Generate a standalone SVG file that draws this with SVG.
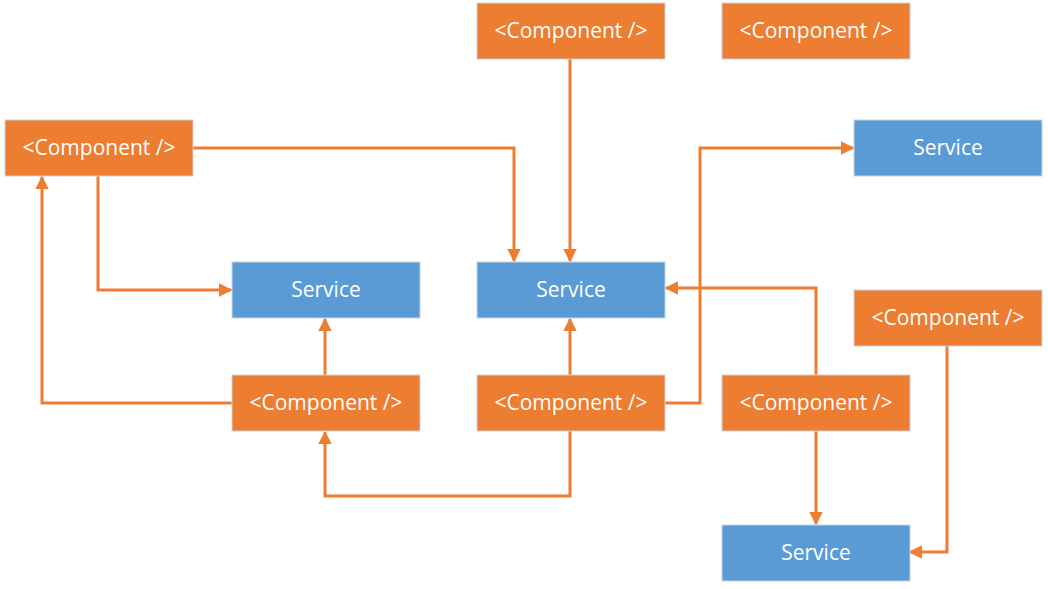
<svg xmlns="http://www.w3.org/2000/svg" width="1048" height="589" viewBox="0 0 1048 589">
<defs>
<style>
.c rect{fill:#ED7D31;stroke:#C9D3E3;stroke-width:1}
.s rect{fill:#5B9BD5;stroke:#C9D3E3;stroke-width:1}
text{font-family:"Open Sans","Liberation Sans",sans-serif;font-size:21px;fill:#fff;text-anchor:middle;dominant-baseline:central}
.e path{fill:none;stroke:#ED7D31;stroke-width:3;marker-end:url(#a)}
</style>
<marker id="a" viewBox="0 0 10 10" refX="9" refY="5" markerWidth="4.5" markerHeight="4.5" orient="auto" markerUnits="strokeWidth">
<path d="M0,0 L10,5 L0,10 z" fill="#ED7D31"/>
</marker>
</defs>
<rect width="1048" height="589" fill="#fff"/>
<g class="e">
<path d="M193,148 H514 V261"/>
<path d="M570,59 V261"/>
<path d="M98,176 V290 H231"/>
<path d="M232,403 H42 V177"/>
<path d="M325,375 V319"/>
<path d="M570,375 V319"/>
<path d="M570,431 V496 H325 V432"/>
<path d="M665,403 H700 V148 H853"/>
<path d="M816,375 V288 H666"/>
<path d="M816,431 V524"/>
<path d="M947,346 V552 H910"/>
</g>
<g id="n1" class="c"><rect x="477" y="3" width="188" height="56"/><text x="571" y="30">&lt;Component /&gt;</text></g>
<g id="n2" class="c"><rect x="722" y="3" width="188" height="56"/><text x="816" y="30">&lt;Component /&gt;</text></g>
<g id="n3" class="c"><rect x="5" y="120" width="188" height="56"/><text x="99" y="147">&lt;Component /&gt;</text></g>
<g id="n4" class="s"><rect x="854" y="120" width="188" height="56"/><text x="948" y="147">Service</text></g>
<g id="n5" class="s"><rect x="232" y="262" width="188" height="56"/><text x="326" y="289">Service</text></g>
<g id="n6" class="s"><rect x="477" y="262" width="188" height="56"/><text x="571" y="289">Service</text></g>
<g id="n7" class="c"><rect x="854" y="290" width="188" height="56"/><text x="948" y="317">&lt;Component /&gt;</text></g>
<g id="n8" class="c"><rect x="232" y="375" width="188" height="56"/><text x="326" y="402">&lt;Component /&gt;</text></g>
<g id="n9" class="c"><rect x="477" y="375" width="188" height="56"/><text x="571" y="402">&lt;Component /&gt;</text></g>
<g id="n10" class="c"><rect x="722" y="375" width="188" height="56"/><text x="816" y="402">&lt;Component /&gt;</text></g>
<g id="n11" class="s"><rect x="722" y="525" width="188" height="56"/><text x="816" y="552">Service</text></g>
</svg>
